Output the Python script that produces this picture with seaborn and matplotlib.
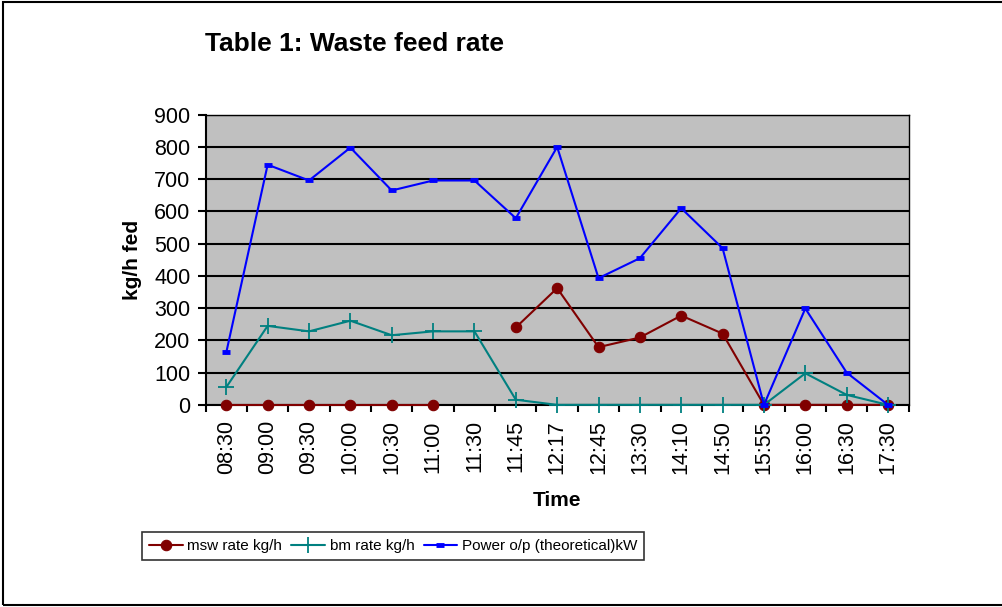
import numpy as np
import pandas as pd
import matplotlib
matplotlib.use("Agg")
import matplotlib.pyplot as plt
from matplotlib.lines import Line2D
from matplotlib.patches import Rectangle
import seaborn as sns

# data
times = ["08:30", "09:00", "09:30", "10:00", "10:30", "11:00", "11:30", "11:45", "12:17",
         "12:45", "13:30", "14:10", "14:50", "15:55", "16:00", "16:30", "17:30"]
msw_rate = [0, 0, 0, 0, 0, 0, np.nan, 240, 362, 179, 209, 277, 221, 0, 0, 0, 0]
bm_rate = [55, 245, 228, 261, 216, 228, 228, 16, 0, 0, 0, 0, 0, 0, 98, 31, 0]
power_kw = [163, 745, 696, 798, 665, 696, 696, 579, 800, 393, 455, 610, 486, 0, 299, 100, 0]

labels = ["msw rate kg/h", "bm rate kg/h", "Power o/p (theoretical)kW"]
colors = ["#800000", "#008080", "#0000FF"]

pos = np.arange(len(times))
# msw has a missing reading at 11:30 -> break the line there
msw = pd.DataFrame({"pos": pos, "value": msw_rate})
msw["segment"] = msw["value"].isna().cumsum()
msw = msw.dropna()
bm = pd.DataFrame({"pos": pos, "value": bm_rate})
power = pd.DataFrame({"pos": pos, "value": power_kw})

sns.set_style("white")
plt.rcParams["font.family"] = ["Liberation Sans", "DejaVu Sans"]
for key in ["text.color", "axes.labelcolor", "xtick.color", "ytick.color"]:
    plt.rcParams[key] = "black"

# marker styles per series
styles = [
    dict(marker="o", markersize=7.5, markeredgewidth=0.8),
    dict(marker="+", markersize=11, markeredgewidth=1.3),
    dict(marker="_", markersize=6, markeredgewidth=3.5),
]

fig = plt.figure(figsize=(10.03, 6.07), dpi=100)
ax = fig.add_axes([0.205, 0.333, 0.701, 0.478])
ax.set_facecolor("#C0C0C0")

sns.lineplot(data=msw, x="pos", y="value", units="segment", estimator=None, ax=ax,
             color=colors[0], lw=1.5, mec=colors[0], mfc=colors[0], zorder=3,
             clip_on=False, **styles[0])
sns.lineplot(data=bm, x="pos", y="value", estimator=None, ax=ax,
             color=colors[1], lw=1.5, mec=colors[1], mfc=colors[1], zorder=4,
             clip_on=False, **styles[1])
sns.lineplot(data=power, x="pos", y="value", estimator=None, ax=ax,
             color=colors[2], lw=1.5, mec=colors[2], mfc=colors[2], zorder=5,
             clip_on=False, **styles[2])

ax.set_xlim(-0.5, len(times) - 0.5)
ax.set_ylim(0, 900)
ax.set_yticks(np.arange(0, 901, 100))
ax.yaxis.grid(True, color="black", lw=1.5)
ax.set_axisbelow(True)
ax.set_xticks(pos)
ax.set_xticklabels(times, rotation=90, fontsize=15.5)
ax.set_xticks(np.arange(-0.5, len(times)), minor=True)
ax.tick_params(axis="x", which="major", length=0, pad=11)
ax.tick_params(axis="x", which="minor", length=5, width=1.5, direction="out", color="black")
ax.tick_params(axis="y", length=6, width=1.5, direction="out", color="black", labelsize=15.5, pad=5)
ax.yaxis.set_ticks_position("left")
ax.xaxis.set_ticks_position("bottom")
for side, sp in ax.spines.items():
    sp.set_color("black")
    sp.set_linewidth(1.5 if side in ("left", "bottom") else 1.0)

ax.set_xlabel("Time", fontsize=15, fontweight="bold", labelpad=12)
ax.set_ylabel("kg/h fed", fontsize=15, fontweight="bold", labelpad=9)

fig.text(0.204, 0.927, "Table 1: Waste feed rate", fontsize=19, fontweight="bold", va="center")

handles = [Line2D([], [], color=c, lw=1.5, mec=c, mfc=c, **s) for c, s in zip(colors, styles)]
leg = fig.legend(handles, labels, loc="center", bbox_to_anchor=(0.392, 0.1), ncol=3,
                 fontsize=11, frameon=True, fancybox=False, edgecolor="black",
                 handlelength=2.2, handletextpad=0.3, columnspacing=0.6, borderpad=0.45,
                 borderaxespad=0)
leg.get_frame().set_linewidth(1.2)

fig.patches.append(Rectangle((0.003, 0.003), 1.2, 0.993, transform=fig.transFigure,
                             fill=False, edgecolor="black", lw=1.5, zorder=0))

fig.savefig("out.png", dpi=100)
